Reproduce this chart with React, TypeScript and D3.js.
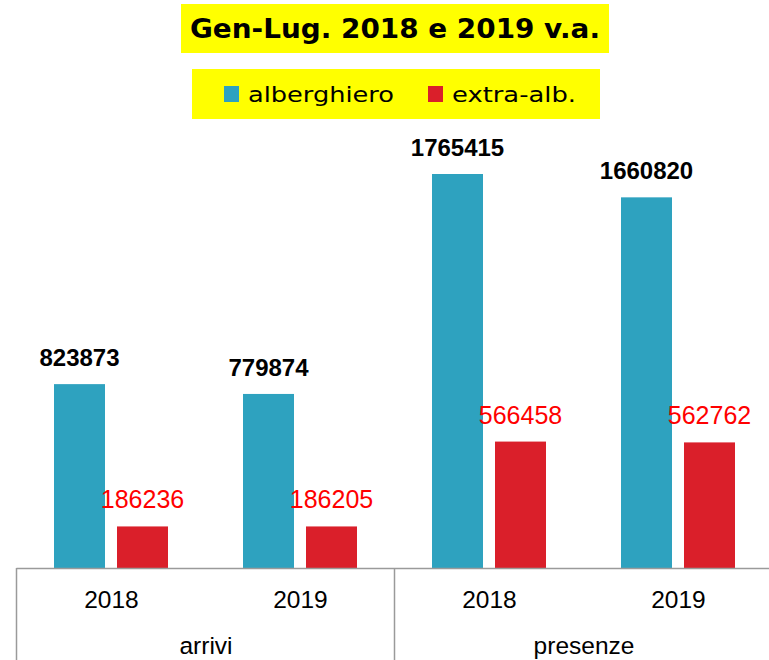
import React from "react";
import * as d3 from "d3";

const groups = ["arrivi", "presenze"];
const years = ["2018", "2019"];
const seriesNames = ["alberghiero", "extra-alb."];
const alberghiero = [823873, 779874, 1765415, 1660820];
const extraAlb = [186236, 186205, 566458, 562762];
const colors = ["#2EA2BF", "#DA1F2A"];
const title = "Gen-Lug. 2018 e 2019 v.a.";

const W = 769;
const H = 660;

export default function App() {
  const cats = groups.flatMap((g) => years.map((y) => `${g}|${y}`));
  const x = d3.scaleBand<string>().domain(cats).range([17, 773]).padding(0);
  const inner = d3
    .scaleBand<string>()
    .domain(seriesNames)
    .range([37, 151])
    .paddingInner(12 / 63)
    .paddingOuter(0);
  const y = d3.scaleLinear().domain([0, 1765415]).range([568, 174]);
  const gx = d3.scaleBand<string>().domain(groups).range([17, 773]).padding(0);
  const values = [alberghiero, extraAlb];
  const font = "'Liberation Sans', Arial, sans-serif";
  const axisColor = "#9a9a9a";

  return (
    <svg width={W} height={H} style={{ position: "absolute", left: 0, top: 0 }}>
      {/* title */}
      <rect x={181} y={4} width={428} height={49} fill="#FFFF00" />
      <text
        x={395}
        y={38}
        textAnchor="middle"
        fontFamily="'DejaVu Sans', sans-serif"
        fontWeight="bold"
        fontSize={26}
        textLength={410}
        lengthAdjust="spacingAndGlyphs"
        fill="#000"
      >
        {title}
      </text>
      {/* legend */}
      <rect x={192} y={69} width={408} height={50} fill="#FFFF00" />
      {seriesNames.map((s, i) => {
        const lx = [224, 428][i];
        const tl = [146, 124][i];
        return (
          <g key={s}>
            <rect x={lx} y={86} width={15} height={16} fill={colors[i]} />
            <text
              x={lx + 24}
              y={102}
              fontFamily="'DejaVu Sans', sans-serif"
              fontSize={21}
              textLength={tl}
              lengthAdjust="spacingAndGlyphs"
              fill="#000"
            >
              {s}
            </text>
          </g>
        );
      })}
      {/* bars */}
      {cats.map((c, ci) => (
        <g key={c} transform={`translate(${x(c)},0)`}>
          {seriesNames.map((s, si) => {
            const v = values[si][ci];
            const bx = inner(s)!;
            const bw = inner.bandwidth();
            return (
              <g key={s}>
                <rect x={bx} y={y(v)} width={bw} height={y(0) - y(v)} fill={colors[si]} />
                <text
                  x={bx + bw / 2}
                  y={y(v) - 18}
                  textAnchor="middle"
                  fontFamily={font}
                  fontWeight={si === 0 ? "bold" : "normal"}
                  fontSize={si === 0 ? 24 : 25}
                  fill={si === 0 ? "#000" : "#FF0000"}
                >
                  {v}
                </text>
              </g>
            );
          })}
          <text
            x={x.bandwidth() / 2}
            y={607.5}
            textAnchor="middle"
            fontFamily={font}
            fontSize={24.5}
            fill="#000"
          >
            {years[ci % years.length]}
          </text>
        </g>
      ))}
      {/* axis */}
      <line x1={16.5} x2={W} y1={568.5} y2={568.5} stroke={axisColor} strokeWidth={1.5} />
      {groups.map((g) => (
        <g key={g}>
          <line x1={gx(g)! - 0.5} x2={gx(g)! - 0.5} y1={568} y2={H} stroke={axisColor} strokeWidth={1.5} />
          <text
            x={gx(g)! + gx.bandwidth() / 2}
            y={654}
            textAnchor="middle"
            fontFamily={font}
            fontSize={24.5}
            fill="#000"
          >
            {g}
          </text>
        </g>
      ))}
    </svg>
  );
}
